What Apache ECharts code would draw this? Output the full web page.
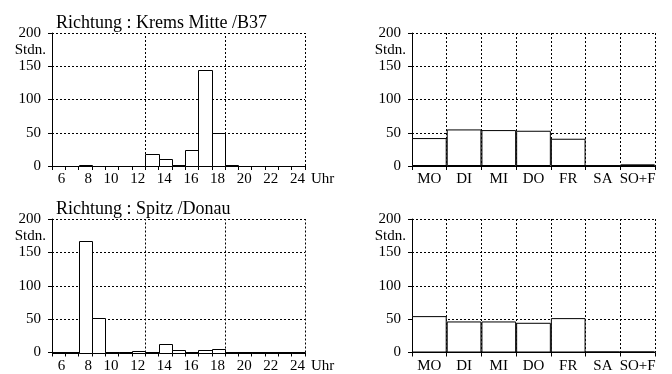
<!DOCTYPE html>
<html>
<head>
<meta charset="utf-8">
<script src="https://cdn.jsdelivr.net/npm/echarts@6/dist/echarts.min.js"></script>
<style>
html,body{margin:0;padding:0;background:#fff;}
#c{width:672px;height:374px;}
</style>
</head>
<body>
<div id="c"></div>
<script>
// ---- data ----
const hourBins = [5,6,7,8,9,10,11,12,13,14,15,16,17,18,19,20,21,22,23]; // bin start hour
const kremsHourly = [0,0,1,0,0,0,0,18,10,1,24,145,50,1,0,0,0,0,0];
const spitzHourly = [0,0,167,52,1,1,2,1,13,3,0,4,5,0,0,0,0,0,0];
const days = ['MO','DI','MI','DO','FR','SA','SO+F'];
const kremsWeekly = [42,55,54,53,41,1,2.5];
const spitzWeekly = [54.5,46.5,46.5,44.5,51.5,1.5,1.5];
const yTicks = [0,50,100,150,200];
const hourGridLines = [12,18,24];
const titles = ['Richtung : Krems Mitte /B37','Richtung : Spitz /Donau'];
const yName = 'Stdn.';
const hourUnit = 'Uhr';

// ---- chart ----
const FONT = '"Liberation Serif", "Times New Roman", serif';
const dotted = {type:[2,2], color:'#000', width:1};
const chart = echarts.init(document.getElementById('c'));

const grids = [
  {left:52, top:33, width:253, height:133},
  {left:52, top:219, width:253, height:133.5},
  {left:412, top:33, width:243, height:133},
  {left:412, top:219, width:243, height:133.5}
];

function yAxisFor(i){
  return {
    type:'value', gridIndex:i, min:yTicks[0], max:yTicks[yTicks.length-1], interval:50,
    axisLine:{show:true, lineStyle:{color:'#000', width:1}},
    axisTick:{show:true, length:4, lineStyle:{color:'#000'}},
    axisLabel:{color:'#000', fontFamily:FONT, fontSize:15, margin:11},
    splitLine:{show:true, lineStyle:dotted},
    name:yName, nameLocation:'end', nameGap:-17,
    nameTextStyle:{color:'#000', fontFamily:FONT, fontSize:15, align:'right', verticalAlign:'middle', padding:[0,6,0,0]}
  };
}

function hourXAxis(i){
  return {
    type:'value', gridIndex:i, min:5, max:24, interval:1,
    axisLine:{show:true, onZero:false, lineStyle:{color:'#000', width:1}},
    axisTick:{show:true, length:4, lineStyle:{color:'#000'}},
    axisLabel:{color:'#000', fontFamily:FONT, fontSize:15, margin:6, align:'right',
      formatter: v => (v % 2 === 0 ? String(v) : '')},
    splitLine:{show:false},
    name:hourUnit, nameLocation:'end', nameGap:6,
    nameTextStyle:{color:'#000', fontFamily:FONT, fontSize:15, verticalAlign:'top', align:'left', padding:[6,0,0,0]}
  };
}

function dayXAxis(i){
  return {
    type:'category', gridIndex:i, data:days, boundaryGap:true,
    axisLine:{show:true, onZero:false, lineStyle:{color:'#000', width:1}},
    axisTick:{show:true, length:4, interval:0, lineStyle:{color:'#000'}},
    axisLabel:{color:'#000', fontFamily:FONT, fontSize:15, margin:6, interval:0},
    splitLine:{show:true, interval:0, lineStyle:dotted}
  };
}

function histSeries(i, values){
  return {
    type:'custom', xAxisIndex:i, yAxisIndex:i, z:3,
    data: hourBins.map((h, k) => [h, values[k]]),
    renderItem: (params, api) => {
      const h = api.value(0), v = api.value(1);
      const p0 = api.coord([h, v]);
      const p1 = api.coord([h + 1, 0]);
      const x0 = Math.round(p0[0]) + 0.5, x1 = Math.round(p1[0]) + 0.5;
      const y0 = Math.round(p0[1]) + 0.5, y1 = Math.round(p1[1]) + 0.5;
      return {type:'rect', shape:{x:x0, y:y0, width:x1 - x0, height:y1 - y0},
        style:{fill:'#fff', stroke:'#000', lineWidth:1}};
    },
    silent:true
  };
}

function gridLineSeries(i){
  return {
    type:'line', xAxisIndex:i, yAxisIndex:i, data:[], z:1, silent:true,
    markLine:{silent:true, symbol:'none', label:{show:false}, lineStyle:dotted, z:1,
      data: hourGridLines.map(x => ({xAxis:x}))}
  };
}

function barSeries(i, values){
  return {
    type:'bar', xAxisIndex:i, yAxisIndex:i, data:values, barCategoryGap:'0%', z:3,
    itemStyle:{color:'#fff', borderColor:'#000', borderWidth:1}, silent:true
  };
}

chart.setOption({
  animation:false,
  backgroundColor:'#fff',
  title:[
    {text:titles[0], left:51, top:9, textStyle:{color:'#000', fontFamily:FONT, fontSize:18, fontWeight:'normal'}},
    {text:titles[1], left:51, top:195, textStyle:{color:'#000', fontFamily:FONT, fontSize:18, fontWeight:'normal'}}
  ],
  grid:grids,
  xAxis:[hourXAxis(0), hourXAxis(1), dayXAxis(2), dayXAxis(3)],
  yAxis:[yAxisFor(0), yAxisFor(1), yAxisFor(2), yAxisFor(3)],
  series:[
    gridLineSeries(0), gridLineSeries(1),
    histSeries(0, kremsHourly), histSeries(1, spitzHourly),
    barSeries(2, kremsWeekly), barSeries(3, spitzWeekly)
  ]
});
</script>
</body>
</html>
